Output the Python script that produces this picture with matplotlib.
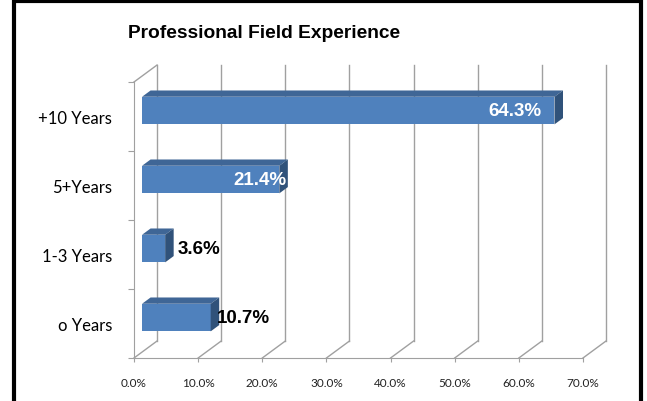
import numpy as np
import matplotlib
matplotlib.use("Agg")
import matplotlib.pyplot as plt
from matplotlib.patches import Polygon, Rectangle

# data
categories = ["o Years", "1-3 Years", "5+Years", "+10 Years"]
percent = [10.7, 3.6, 21.4, 64.3]
xticks = [0, 10, 20, 30, 40, 50, 60, 70]
xtick_labels = ["0.0%", "10.0%", "20.0%", "30.0%", "40.0%", "50.0%", "60.0%", "70.0%"]

# fake 3d: depth vector in data units
DX, DY = 3.59, 0.246
d0, d1 = 0.35, 0.72   # front / back depth of the bars
H = 0.4               # bar thickness

front = "#4F81BD"
top = "#3F6696"
side = "#30527A"
grid = "#A0A0A0"

fig = plt.figure(figsize=(6.47, 4.02), dpi=100)
ax = fig.add_axes([134 / 647, 43 / 402, 74 * 6.414 / 647, 4.3 * 69 / 402])
ax.set_xlim(0, 74)
ax.set_ylim(0, 4.3)

# back wall gridlines + floor diagonals
for v in xticks:
    ax.plot([v + DX, v + DX], [DY, 4 + DY], color=grid, lw=1, zorder=1, clip_on=False)
    ax.plot([v, v + DX], [0, DY], color=grid, lw=1, zorder=1, clip_on=False)
ax.plot([0, DX], [4, 4 + DY], color=grid, lw=1, zorder=1, clip_on=False)

y = np.arange(len(categories)) + 0.5
ax.barh(y + d0 * DY, percent, left=d0 * DX, height=H, color=front,
        edgecolor="none", zorder=3)
for c, v in zip(y, percent):
    x0, x1 = d0 * DX, d1 * DX
    yt0, yt1 = c + H / 2 + d0 * DY, c + H / 2 + d1 * DY
    ax.add_patch(Polygon([(x0, yt0), (x0 + v, yt0), (x1 + v, yt1), (x1, yt1)],
                         closed=True, facecolor=top, edgecolor="none", zorder=3))
    yb0, yb1 = c - H / 2 + d0 * DY, c - H / 2 + d1 * DY
    ax.add_patch(Polygon([(x0 + v, yb0), (x0 + v, yt0), (x1 + v, yt1), (x1 + v, yb1)],
                         closed=True, facecolor=side, edgecolor="none", zorder=3))

# value labels, nudged in pixels
nudge = [6, 12, 7, -13]
for c, v, n in zip(y, percent, nudge):
    inside = v > 15
    ax.annotate(f"{v:.1f}%", xy=(v + d0 * DX, c + d0 * DY),
                xytext=(n * 0.72, 0), textcoords="offset points",
                ha="right" if inside else "left", va="center",
                color="white" if inside else "black",
                fontsize=13.5, fontweight="bold", family="Liberation Sans", zorder=5)

# axes
for s in ["top", "right"]:
    ax.spines[s].set_visible(False)
ax.spines["bottom"].set_bounds(0, 70)
ax.spines["left"].set_bounds(0, 4)
ax.spines["bottom"].set_color(grid)
ax.spines["left"].set_color(grid)

ax.set_xticks(xticks)
ax.set_xticklabels(xtick_labels, family="Lato", fontsize=8.5, color="#222222")
ax.tick_params(axis="x", direction="out", length=3, color=grid, pad=10.5)

ax.set_yticks([0, 1, 2, 3, 4])
ax.set_yticklabels([])
ax.set_yticks(y, minor=True)
ax.set_yticklabels(categories, minor=True, family="Lato", fontsize=12,
                   va="center_baseline")
ax.tick_params(axis="y", which="major", direction="out", length=4.3, color=grid)
ax.tick_params(axis="y", which="minor", length=0, pad=15.8)

fig.text(264 / 647, 1 - 38 / 402, "Professional Field Experience",
         ha="center", va="baseline", fontsize=13.8, fontweight="bold",
         family="Liberation Sans")

# outer frame
fig.patches.append(Rectangle((14 / 647, -0.1), (640.5 - 14) / 647, 1.1 - 2 / 402,
                             transform=fig.transFigure, fill=False,
                             edgecolor="black", lw=3, zorder=10))

fig.savefig("out.png", dpi=100)
